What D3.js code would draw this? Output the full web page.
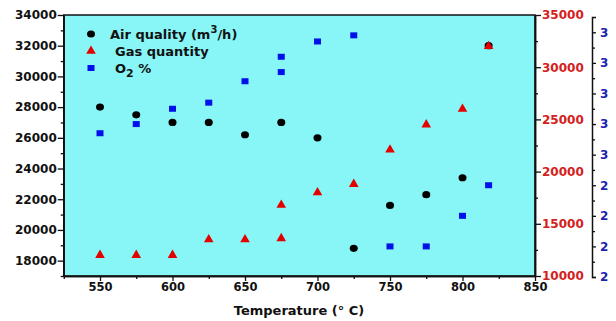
<!DOCTYPE html>
<html>
<head>
<meta charset="utf-8">
<script src="https://cdn.jsdelivr.net/npm/d3@7"></script>
<style>
  body { margin: 0; background: #fff; }
  text { font-family: "DejaVu Sans", sans-serif; font-weight: bold; }
</style>
</head>
<body>
<svg id="chart" width="616" height="321"></svg>
<script>
// values
var airTemp = [550, 575, 600, 625, 650, 675, 700, 725, 750, 775, 800, 818];
var airFlow = [28000, 27500, 27000, 27000, 26200, 27000, 26000, 18800, 21600, 22300, 23400, 32000];

var gasTemp = [550, 575, 600, 625, 650, 675, 675, 700, 725, 750, 775, 800, 818];
var gasQty  = [12000, 12000, 12000, 13500, 13500, 13600, 16800, 18000, 18800, 22100, 24500, 26000, 32000];

var o2Temp = [550, 575, 600, 625, 650, 675, 675, 700, 725, 750, 775, 800, 818];
var o2Pct  = [30.7, 31.0, 31.5, 31.7, 32.4, 32.7, 33.2, 33.7, 33.9, 27.0, 27.0, 28.0, 29.0];

var xTicks = [550, 600, 650, 700, 750, 800, 850];
var xMinor = [525, 575, 625, 675, 725, 775, 825];
var leftTicks = [18000, 20000, 22000, 24000, 26000, 28000, 30000, 32000, 34000];
var leftMinor = [17000, 19000, 21000, 23000, 25000, 27000, 29000, 31000, 33000];
var rightTicks = [10000, 15000, 20000, 25000, 30000, 35000];
var rightMinor = [12500, 17500, 22500, 27500, 32500];
var o2Ticks = [26, 27, 28, 29, 30, 31, 32, 33, 34];
var o2Minor = [26.5, 27.5, 28.5, 29.5, 30.5, 31.5, 32.5, 33.5];

var svg = d3.select("#chart");
var fmt = d3.format("d");

// plot box (window.top is reserved, so own names)
var pL = 63.75, pR = 535, pT = 15, pB = 276;

var x = d3.scaleLinear().domain([525, 850]).range([pL, pR]);
var yL = d3.scaleLinear().domain([17000, 34000]).range([pB, pT]);
var yR = d3.scaleLinear().domain([10000, 35000]).range([pB, pT]);
var yO = d3.scaleLinear().domain([26, 34.5]).range([277, 17]);

// plot background
svg.append("rect")
  .attr("x", pL).attr("y", pT)
  .attr("width", pR - pL).attr("height", pB - pT)
  .attr("fill", "#88f6f6")
  .attr("stroke", "#111").attr("stroke-width", 1.5);

function styleAxis(g, color) {
  g.select(".domain").attr("stroke", "#111").attr("stroke-width", 1.5);
  g.selectAll(".tick line").attr("stroke", "#111").attr("stroke-width", 1.3);
  g.selectAll(".tick text").attr("fill", color);
  g.attr("font-family", null).attr("font-size", null);
}

// bottom axis
var gx = svg.append("g").attr("transform", "translate(0," + pB + ")")
  .call(d3.axisBottom(x).tickValues(xTicks).tickFormat(fmt).tickSize(5).tickSizeOuter(0).tickPadding(2));
gx.selectAll(".tick text").style("font-size", "11.5px");
styleAxis(gx, "#111");
svg.append("g").attr("transform", "translate(0," + pB + ")")
  .call(d3.axisBottom(x).tickValues(xMinor).tickSize(3).tickSizeOuter(0).tickFormat(""))
  .call(function (g) { styleAxis(g, "#111"); });

// left axis (air)
var gl = svg.append("g").attr("transform", "translate(" + pL + ",0)")
  .call(d3.axisLeft(yL).tickValues(leftTicks).tickFormat(fmt).tickSize(6).tickSizeOuter(0).tickPadding(1));
gl.selectAll(".tick text").style("font-size", "12px");
styleAxis(gl, "#111");
svg.append("g").attr("transform", "translate(" + pL + ",0)")
  .call(d3.axisLeft(yL).tickValues(leftMinor).tickSize(3).tickSizeOuter(0).tickFormat(""))
  .call(function (g) { styleAxis(g, "#111"); });

// right axis (gas)
var gr = svg.append("g").attr("transform", "translate(" + pR + ",0)")
  .call(d3.axisRight(yR).tickValues(rightTicks).tickFormat(fmt).tickSize(6).tickSizeOuter(0).tickPadding(1));
gr.selectAll(".tick text").style("font-size", "12px");
styleAxis(gr, "#d42020");
svg.append("g").attr("transform", "translate(" + pR + ",0)")
  .call(d3.axisRight(yR).tickValues(rightMinor).tickSize(3).tickSizeOuter(0).tickFormat(""))
  .call(function (g) { styleAxis(g, "#111"); });

// third axis (O2), cut off at the picture edge
svg.append("clipPath").attr("id", "edge")
  .append("rect").attr("x", 0).attr("y", 0).attr("width", 608).attr("height", 321);
var clipG = svg.append("g").attr("clip-path", "url(#edge)");
var go = clipG.append("g").attr("transform", "translate(592,0)")
  .call(d3.axisRight(yO).tickValues(o2Ticks).tickFormat(fmt).tickSize(4).tickSizeOuter(4).tickPadding(4));
go.selectAll(".tick text").style("font-size", "12px");
styleAxis(go, "#2222b0");
clipG.append("g").attr("transform", "translate(592,0)")
  .call(d3.axisRight(yO).tickValues(o2Minor).tickSize(3).tickSizeOuter(0).tickFormat(""))
  .call(function (g) { styleAxis(g, "#111"); g.select(".domain").remove(); });

// markers
var tri = d3.symbol().type(d3.symbolTriangle).size(40);

svg.append("g").selectAll("ellipse")
  .data(airTemp)
  .enter().append("ellipse")
  .attr("cx", function (d) { return x(d); })
  .attr("cy", function (d, i) { return yL(airFlow[i]); })
  .attr("rx", 4).attr("ry", 3.6)
  .attr("fill", "#000");

svg.append("g").selectAll("path")
  .data(gasTemp)
  .enter().append("path")
  .attr("d", tri)
  .attr("transform", function (d, i) { return "translate(" + x(d) + "," + yR(gasQty[i]) + ")"; })
  .attr("fill", "#e50000");

svg.append("g").selectAll("rect")
  .data(o2Temp)
  .enter().append("rect")
  .attr("x", function (d) { return x(d) - 3.5; })
  .attr("y", function (d, i) { return yO(o2Pct[i]) - 3; })
  .attr("width", 7).attr("height", 6)
  .attr("fill", "#0010e8");

// legend
var lg = svg.append("g");
lg.append("ellipse").attr("cx", 91).attr("cy", 34).attr("rx", 4).attr("ry", 3.6).attr("fill", "#000");
lg.append("path").attr("d", tri).attr("transform", "translate(91,51)").attr("fill", "#e50000");
lg.append("rect").attr("x", 87.5).attr("y", 65).attr("width", 7).attr("height", 6).attr("fill", "#0010e8");

var t1 = lg.append("text").attr("x", 110).attr("y", 39).style("font-size", "13px").attr("fill", "#111");
t1.append("tspan").text("Air quality (m");
t1.append("tspan").attr("dy", -6).style("font-size", "10px").text("3");
t1.append("tspan").attr("dy", 6).text("/h)");

lg.append("text").attr("x", 115).attr("y", 56).style("font-size", "13px").attr("fill", "#111")
  .text("Gas quantity");

var t3 = lg.append("text").attr("x", 115).attr("y", 73).style("font-size", "13px").attr("fill", "#111");
t3.append("tspan").text("O");
t3.append("tspan").attr("dy", 4).style("font-size", "11px").text("2");
t3.append("tspan").attr("dy", -4).text(" %");

// axis title
svg.append("text")
  .attr("x", 299).attr("y", 315)
  .attr("text-anchor", "middle")
  .style("font-size", "13px")
  .attr("fill", "#111")
  .text("Temperature (\u00b0 C)");
</script>
</body>
</html>
